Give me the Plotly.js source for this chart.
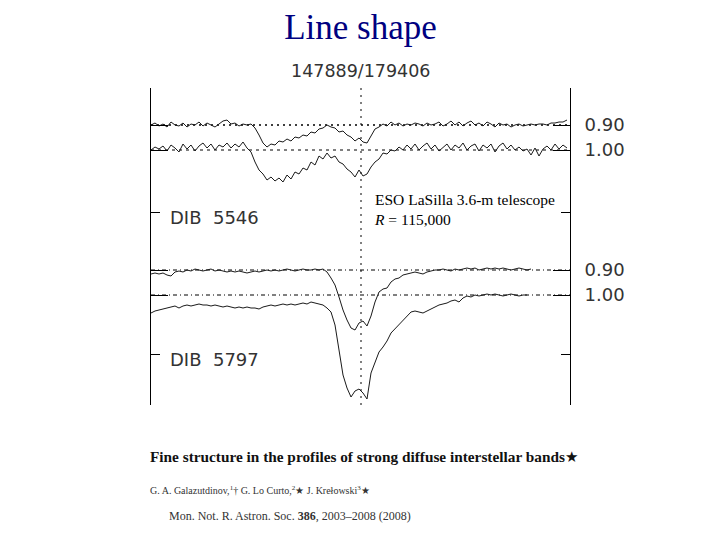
<!DOCTYPE html>
<html><head><meta charset="utf-8">
<script src="https://cdn.plot.ly/plotly-3.0.1.min.js"></script>
<style>html,body{margin:0;padding:0;background:#fff}</style>
</head><body>
<div id="chart" style="width:720px;height:540px"></div>
<script>
// Relative velocity grid start/step (km/s) and normalised fluxes
const startVel = -105, stepVel = 2;
const flux5546_HD147889 = [1.000,1.008,0.996,1.004,0.992,1.012,1.000,0.996,1.008,0.992,
1.004,1.000,1.012,0.996,1.008,1.000,0.992,1.004,1.016,1.020,
1.004,1.008,0.996,1.004,1.000,1.004,0.988,0.960,0.928,0.912,
0.924,0.920,0.936,0.932,0.944,0.936,0.952,0.948,0.960,0.956,
0.972,0.968,0.984,0.988,1.000,0.992,0.988,0.972,0.976,0.960,
0.952,0.936,0.948,0.932,0.928,0.956,0.984,0.992,1.004,0.996,
1.012,1.000,1.008,0.996,1.004,1.000,1.008,1.004,0.996,1.008,
1.000,1.004,1.012,0.996,1.004,1.016,1.000,1.012,0.996,1.008,
1.016,1.000,1.008,0.996,1.012,1.004,0.992,1.008,1.000,1.004,
0.992,1.000,1.004,0.996,1.000,1.004,1.000,1.004,1.004,1.000,
1.008,1.008,1.012,1.012,1.020];
const flux5546_HD179406 = [1.000,1.012,1.004,1.016,0.996,1.020,1.008,0.992,1.024,1.004,
1.020,0.996,1.016,1.028,1.008,1.024,1.000,1.020,1.012,1.028,
1.008,1.024,1.012,1.032,1.008,0.992,0.952,0.920,0.904,0.880,
0.892,0.876,0.888,0.872,0.900,0.884,0.912,0.904,0.928,0.920,
0.952,0.940,0.976,0.964,0.988,0.968,0.976,0.952,0.944,0.924,
0.912,0.892,0.920,0.896,0.904,0.932,0.952,0.964,0.988,0.984,
1.000,0.996,1.012,1.000,1.020,1.004,1.024,1.000,1.016,1.028,
1.004,1.020,0.996,1.012,1.024,1.000,1.020,1.008,1.028,1.000,
1.016,1.024,0.996,1.020,1.008,1.024,0.992,1.016,1.028,1.004,
1.020,1.000,1.012,0.996,1.004,0.980,1.008,0.976,1.004,1.016,
1.000,1.024,1.004,1.020,1.008];
const flux5797_HD147889 = [0.984,0.988,0.984,0.988,0.980,0.976,0.992,0.996,0.992,1.000,
0.996,1.004,1.000,0.996,1.000,1.004,0.996,1.000,0.996,0.992,
0.996,0.992,0.996,0.992,0.988,0.992,0.996,0.992,0.996,1.000,
0.996,1.000,0.996,1.000,1.004,1.000,0.996,1.000,1.004,1.000,
1.000,1.004,1.000,1.004,0.992,0.968,0.940,0.892,0.840,0.800,
0.768,0.760,0.788,0.796,0.776,0.816,0.872,0.912,0.924,0.928,
0.952,0.964,0.968,0.980,0.984,0.988,0.992,0.988,0.984,0.992,
0.996,1.000,1.000,1.004,1.000,0.996,1.004,1.000,1.004,1.008,
1.004,1.008,1.000,1.004,1.008,1.004,1.008,1.004,1.008,1.004,
1.000,1.004,1.008,1.004,1.000,1.004];
const flux5797_HD179406 = [0.928,0.936,0.940,0.944,0.948,0.952,0.956,0.948,0.956,0.960,
0.956,0.960,0.964,0.960,0.960,0.956,0.960,0.956,0.952,0.956,
0.952,0.948,0.952,0.948,0.952,0.948,0.948,0.944,0.952,0.956,
0.960,0.956,0.960,0.964,0.960,0.964,0.960,0.964,0.968,0.964,
0.972,0.968,0.964,0.960,0.948,0.932,0.880,0.780,0.680,0.628,
0.592,0.616,0.624,0.608,0.584,0.688,0.732,0.772,0.792,0.816,
0.848,0.864,0.880,0.896,0.912,0.932,0.936,0.932,0.928,0.936,
0.944,0.952,0.960,0.964,0.968,0.976,0.980,0.972,0.988,0.996,
0.992,1.000,0.996,1.000,1.004,1.000,1.004,1.000,0.996,1.000,
1.004,1.000,0.996,1.000,1.000];
// vertical offsets of the four spectra (continuum levels in plot units)
const offsets = [0.10, 0.00, -0.48, -0.58];
const levelLabels = ["0.90", "1.00", "0.90", "1.00"];
const innerTicks = [0.184, 0.752];

const series = [flux5546_HD147889, flux5546_HD179406, flux5797_HD147889, flux5797_HD179406];
const traces = series.map((f, k) => ({
  type: 'scatter', mode: 'lines',
  x0: startVel, dx: stepVel,
  y: f.map(v => v + offsets[k]),
  yaxis: k < 2 ? 'y' : 'y2',
  line: {color: '#1a1a1a', width: 1},
  hoverinfo: 'skip', showlegend: false
}));

const refDash = ['2px,4px', '3px,4px', '4px,3px,1px,3px', '4px,3px,1px,3px'];
const shapes = offsets.map((o, k) => ({
  type: 'line', layer: 'below', xref: 'paper', x0: 0, x1: 1, yref: 'y', y0: 1 + o, y1: 1 + o,
  line: {color: '#000', width: k === 0 ? 1.5 : 1, dash: refDash[k]}
}));
shapes.push({type: 'line', layer: 'below', xref: 'x', x0: 0, x1: 0, yref: 'paper', y0: 0, y1: 1,
  line: {color: '#000', width: 1, dash: '2px,5px'}});

const yr = [-0.02, 1.248];
const serif = 'Liberation Serif, Times New Roman, serif';
const sans = 'DejaVu Sans, sans-serif';
const layout = {
  width: 720, height: 540,
  margin: {l: 151, r: 150, t: 88, b: 135},
  paper_bgcolor: '#fff', plot_bgcolor: '#fff',
  title: {text: 'Line shape', font: {family: serif, size: 35, color: '#000080'},
          x: 0.5, xref: 'paper', xanchor: 'center', y: 0.95, yref: 'container', yanchor: 'middle'},
  xaxis: {range: [startVel, 104.5], visible: false, fixedrange: true},
  yaxis: {range: yr, showline: true, linecolor: '#000', linewidth: 1, mirror: 'ticks',
          ticks: 'inside', ticklen: 9, tickcolor: '#000', tickvals: innerTicks,
          showticklabels: false, showgrid: false, zeroline: false, fixedrange: true},
  yaxis2: {range: yr, overlaying: 'y', side: 'right', showline: true, linecolor: '#000', mirror: 'ticks',
           ticks: 'inside', ticklen: 17, tickcolor: '#000',
           tickvals: offsets.map(o => 1 + o), ticktext: levelLabels, ticklabelstandoff: 10,
           tickfont: {family: sans, size: 18, color: '#333'},
           showgrid: false, zeroline: false, fixedrange: true},
  shapes: shapes,
  annotations: [
    {text: '147889/179406', xref: 'paper', yref: 'paper', x: 0.5, y: 1.054, showarrow: false,
     xanchor: 'center', yanchor: 'middle', font: {family: sans, size: 17.5, color: '#333'}},
    {text: 'DIB  5546', xref: 'paper', yref: 'paper', x: 0.040, y: 0.593, showarrow: false,
     xanchor: 'left', yanchor: 'middle', font: {family: sans, size: 18, color: '#333'}},
    {text: 'DIB  5797', xref: 'paper', yref: 'paper', x: 0.040, y: 0.142, showarrow: false,
     xanchor: 'left', yanchor: 'middle', font: {family: sans, size: 18, color: '#333'}},
    {text: 'ESO LaSilla 3.6-m telescope<br><i>R</i> = 115,000', xref: 'paper', yref: 'paper',
     x: 0.527, y: 0.617, showarrow: false, xanchor: 'left', yanchor: 'middle', align: 'left',
     bgcolor: '#fff', font: {family: serif, size: 15.5, color: '#000'}},
    {text: '<b>Fine structure in the profiles of strong diffuse interstellar bands</b>★', xref: 'paper', yref: 'paper',
     x: -0.007, y: -0.161, showarrow: false, xanchor: 'left', yanchor: 'middle',
     font: {family: serif, size: 15.3, color: '#111'}},
    {text: 'G. A. Galazutdinov,<sup>1</sup>† G. Lo Curto,<sup>2</sup>★ J. Krełowski<sup>3</sup>★', xref: 'paper', yref: 'paper',
     x: -0.007, y: -0.268, showarrow: false, xanchor: 'left', yanchor: 'middle',
     font: {family: serif, size: 10, color: '#333'}},
    {text: 'Mon. Not. R. Astron. Soc. <b>386</b>, 2003–2008 (2008)', xref: 'paper', yref: 'paper',
     x: 0.038, y: -0.350, showarrow: false, xanchor: 'left', yanchor: 'middle',
     font: {family: serif, size: 12, color: '#333'}}
  ]
};
Plotly.newPlot('chart', traces, layout, {staticPlot: true, displayModeBar: false});
</script>
</body></html>
